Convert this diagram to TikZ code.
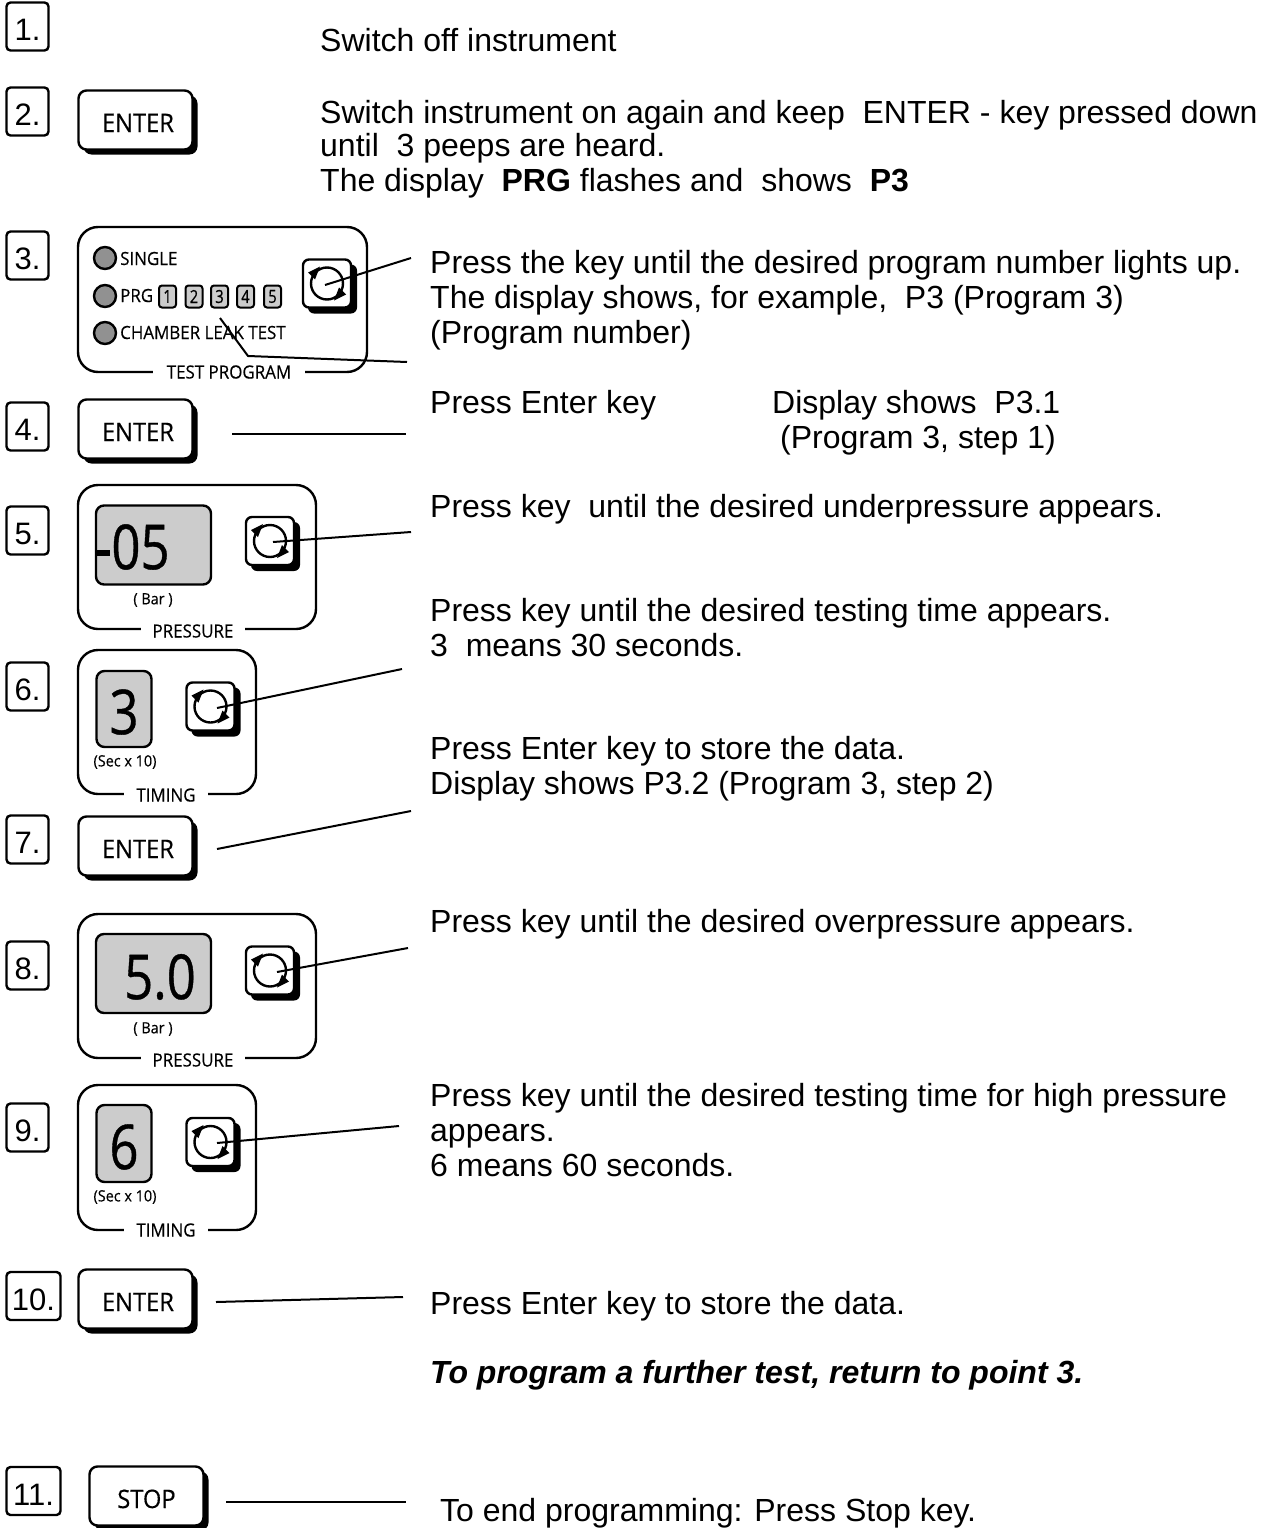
\documentclass[tikz,border=0pt]{standalone}
\usepackage{fontspec}
\setmainfont{Liberation Sans}
\newfontfamily\cond[FakeStretch=0.93,FakeBold=0.4]{Open Sans}
\newfontfamily\condbig[FakeStretch=0.82,FakeBold=0.6]{Open Sans}
\newcommand{\cf}[1]{\fontsize{#1}{#1}\selectfont\cond}
\tikzset{
  x=1pt,y=-1pt,
  ln/.style={line width=2pt,black},
  numbox/.style={draw,line width=2.4pt,rounded corners=4pt,minimum width=42pt,minimum height=48pt,inner sep=0pt,fill=white,font=\fontsize{31}{31}\selectfont,text height=28pt,text depth=0pt},
  widebox/.style={numbox,minimum width=54pt},
  body/.style={anchor=base west,inner sep=0pt,font=\fontsize{32}{36}\selectfont},
  keyface/.style={draw,line width=2.4pt,rounded corners=8pt,fill=white,minimum width=114pt,minimum height=59pt,inner sep=0pt,font=\cf{25.5},text height=24pt,text depth=0pt},
  keyshadow/.style={fill=black,rounded corners=8pt,minimum width=114pt,minimum height=59pt,inner sep=0pt},
  panel/.style={draw,line width=2.4pt,rounded corners=20pt,inner sep=0pt},
  panellabel/.style={fill=white,inner sep=0pt,inner xsep=12pt,minimum height=16pt,font=\cf{18.2}},
  display/.style={draw,line width=2.4pt,rounded corners=8pt,fill=black!20,inner sep=0pt},
  led/.style={circle,draw,line width=2.4pt,fill=black!43,minimum size=22pt,inner sep=0pt},
  prgnum/.style={draw,line width=2pt,rounded corners=3pt,fill=black!20,minimum width=17pt,minimum height=22pt,inner sep=0pt,font=\fontsize{18}{18}\selectfont\condbig},
  small/.style={inner sep=0pt,font=\cf{15.5}},
  paneltext/.style={anchor=base west,inner sep=0pt,font=\cf{18.2}},
  bigdig/.style={inner sep=0pt,font=\fontsize{62}{62}\selectfont\condbig},
}
% square rotary key: #1 name, (#2,#3) centre of the face
\newcommand{\rotkey}[3]{%
  \fill[rounded corners=6pt] (#2-19,#3-19) rectangle (#2+30,#3+30);
  \node[draw,line width=2.4pt,rounded corners=6pt,fill=white,minimum size=48pt,inner sep=0pt] (#1) at (#2,#3) {};
  \node[circle,draw,line width=2.4pt,minimum size=32pt,inner sep=0pt] (#1c) at (#2,#3) {};
  \fill (#2-19,#3-11) -- (#2-7,#3-17) -- (#2-12,#3-4) -- cycle;
  \fill (#2+19,#3+11) -- (#2+7,#3+17) -- (#2+12,#3+4) -- cycle;
}
% push key: #1 name, (#2,#3) centre, #4 text
\newcommand{\pushkey}[4]{%
  \node[keyshadow] at (#2+5,#3+5) {};
  \node[keyface] (#1) at (#2,#3) {#4};
}
\begin{document}
\begin{tikzpicture}
\useasboundingbox (0,0) rectangle (1266,1528);
% step numbers
\node[numbox] (n1) at (27.5,26.5) {1.};
\node[numbox] (n2) at (27.5,111.5) {2.};
\node[numbox] (n3) at (27.5,255.5) {3.};
\node[numbox] (n4) at (27.5,426.5) {4.};
\node[numbox] (n5) at (27.5,530.5) {5.};
\node[numbox] (n6) at (27.5,686.5) {6.};
\node[numbox] (n7) at (27.5,839.5) {7.};
\node[numbox] (n8) at (27.5,965.5) {8.};
\node[numbox] (n9) at (27.5,1127.5) {9.};
\node[widebox] (n10) at (33.5,1296) {10.};
\node[widebox] (n11) at (33.5,1491) {11.};
% keys
\pushkey{k2}{135.5}{120}{\hspace{5pt}ENTER}
\pushkey{k4}{135.5}{429}{\hspace{5pt}ENTER}
\pushkey{k7}{135.5}{846}{\hspace{5pt}ENTER}
\pushkey{k10}{135.5}{1299}{\hspace{5pt}ENTER}
\pushkey{k11}{146.5}{1496}{STOP\hspace{8pt}}
% panel 3
\draw[panel] (78,227) rectangle (367,372);
\node[panellabel,inner xsep=14pt] (l3) at (229,372) {TEST PROGRAM};
\node[led] (s1) at (105,258) {};
\node[led] (s2) at (105,296) {};
\node[led] (s3) at (105,333) {};
\node[paneltext] (t1) at (120,265) {SINGLE};
\node[paneltext] (t2) at (120,302) {PRG};
\node[paneltext] (t3) at (120,339) {CHAMBER LEAK TEST};
\node[prgnum] (p1) at (167.5,296.5) {1};
\node[prgnum] (p2) at (194,296.5) {2};
\node[prgnum] (p3) at (219.5,296.5) {3};
\node[prgnum] (p4) at (245.5,296.5) {4};
\node[prgnum] (p5) at (272.5,296.5) {5};
\rotkey{r3}{327}{283.5}
% panel 5
\draw[panel] (78,485) rectangle (316,629);
\node[panellabel] (l5) at (193,631) {PRESSURE};
\node[display,minimum width=115pt,minimum height=79pt] (d5) at (153.5,545) {};
\node[bigdig] (v5) at (140.5,547) {05};
\coordinate (m5a) at (97,553);
\coordinate (m5b) at (110,553);
\draw[line width=5.5pt] (m5a) -- (m5b);
\node[small] (u5) at (153,600) {( Bar )};
\rotkey{r5}{270}{541}
% panel 6
\draw[panel] (78,650) rectangle (256,794);
\node[panellabel] (l6) at (166,795) {TIMING};
\node[display,minimum width=55pt,minimum height=76pt] (d6) at (124,709) {};
\node[bigdig] (v6) at (124,712) {3};
\node[small] (u6) at (125,762) {(Sec x 10)};
\rotkey{r6}{210.5}{706.5}
% panel 8
\draw[panel] (78,914) rectangle (316,1058);
\node[panellabel] (l8) at (193,1060) {PRESSURE};
\node[display,minimum width=115pt,minimum height=79pt] (d8) at (153.5,973.5) {};
\node[bigdig] (v8) at (160,977) {5.0};
\node[small] (u8) at (153,1029) {( Bar )};
\rotkey{r8}{270}{970.5}
% panel 9
\draw[panel] (78,1085) rectangle (256,1230);
\node[panellabel] (l9) at (166,1230) {TIMING};
\node[display,minimum width=55pt,minimum height=77pt] (d9) at (124,1143.5) {};
\node[bigdig] (v9) at (124,1147) {6};
\node[small] (u9) at (125,1197) {(Sec x 10)};
\rotkey{r9}{210.5}{1142}
% free ends of connectors
\coordinate (e3a) at (411,258);
\coordinate (e3b) at (407,362);
\coordinate (b3) at (248,356);
\coordinate (s3b) at (220,318);
\coordinate (e4a) at (232,434);
\coordinate (e4b) at (406,434);
\coordinate (e5) at (411,532);
\coordinate (e6) at (402,669);
\coordinate (e7a) at (217,849);
\coordinate (e7b) at (411,811);
\coordinate (e8) at (408,948);
\coordinate (e9) at (399,1126);
\coordinate (e10a) at (216,1302);
\coordinate (e10b) at (403,1297);
\coordinate (e11a) at (226,1502);
\coordinate (e11b) at (406,1502);
\draw[ln] ([shift={(-2,1.5)}]r3c.center) -- (e3a);
\draw[ln] (s3b) -- (b3) -- (e3b);
\draw[ln] (e4a) -- (e4b);
\draw[ln] ([shift={(3,1)}]r5c.center) -- (e5);
\draw[ln] ([shift={(6.5,1.5)}]r6c.center) -- (e6);
\draw[ln] (e7a) -- (e7b);
\draw[ln] ([shift={(7,1.5)}]r8c.center) -- (e8);
\draw[ln] ([shift={(6.5,1)}]r9c.center) -- (e9);
\draw[ln] (e10a) -- (e10b);
\draw[ln] (e11a) -- (e11b);
% texts
\node[body] (a1) at (320,52) {Switch off instrument};
\node[body] (a2) at (320,123) {Switch instrument on again and keep\ \ ENTER - key pressed down};
\node[body] (a3) at (320,156) {until\ \ 3 peeps are heard.};
\node[body] (a4) at (320,191) {The display\ \ \textbf{PRG} flashes and\ \ shows\ \ \textbf{P3}};
\node[body] (b1) at (430,273) {Press the key until the desired program number lights up.};
\node[body] (b2) at (430,308) {The display shows, for example,\ \ P3 (Program 3)};
\node[body] (b3t) at (430,343) {(Program number)};
\node[body] (c1) at (430,413) {Press Enter key};
\node[body] (c2) at (772,413) {Display shows\ \ P3.1};
\node[body] (c3) at (780,448) {(Program 3, step 1)};
\node[body] (d1) at (430,517) {Press key\ \ until the desired underpressure appears.};
\node[body] (f1) at (430,621) {Press key until the desired testing time appears.};
\node[body] (f2) at (430,656) {3\ \ means 30 seconds.};
\node[body] (g1) at (430,759) {Press Enter key to store the data.};
\node[body] (g2) at (430,794) {Display shows P3.2 (Program 3, step 2)};
\node[body] (h1) at (430,932) {Press key until the desired overpressure appears.};
\node[body] (i1) at (430,1106) {Press key until the desired testing time for high pressure};
\node[body] (i2) at (430,1141) {appears.};
\node[body] (i3) at (430,1176) {6 means 60 seconds.};
\node[body] (j1) at (430,1314) {Press Enter key to store the data.};
\node[body] (j2) at (430,1383) {\textbf{\textit{To program a further test, return to point 3.}}};
\node[body] (k1) at (440,1521) {To end programming: Press Stop key.};
\end{tikzpicture}
\end{document}
